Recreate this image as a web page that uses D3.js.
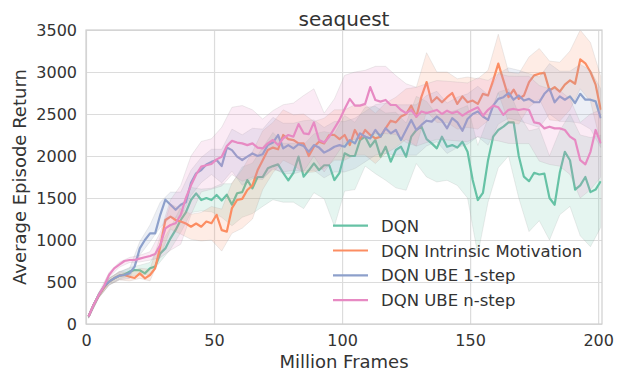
<!DOCTYPE html>
<html><head><meta charset="utf-8">
<script src="https://cdn.jsdelivr.net/npm/d3@7"></script>
<style>body{margin:0;background:#fff;}svg{display:block;font-family:"DejaVu Sans",sans-serif;}</style>
</head><body><svg id="c" width="618" height="377"></svg>
<script>
const title = "seaquest";
const xLabel = "Million Frames";
const yLabel = "Average Episode Return";
const seriesNames = ["DQN", "DQN Intrinsic Motivation", "DQN UBE 1-step", "DQN UBE n-step"];
const xTicks = [0, 50, 100, 150, 200];
const yTicks = [0, 500, 1000, 1500, 2000, 2500, 3000, 3500];
// line samples at x = 1, 3, 5, ..., 201
const dqn = [90,230,345,444,504,544,575,590,623,643,
 640,603,663,683,841,900,1020,1120,1238,1330,
 1476,1556,1476,1500,1476,1536,1470,1540,1420,1556,
 1570,1714,1615,1750,1750,1853,1880,1900,1800,1710,
 1800,1992,1754,1830,1913,1833,1890,1890,1714,1800,
 2032,2000,2000,2190,2230,2111,2190,1992,2111,1932,
 2071,2111,1992,2230,2310,2349,2200,2150,2091,2230,
 2111,2130,2100,2170,2050,1714,1476,1560,1950,2230,
 2310,2349,2400,2400,2000,1754,1700,1800,1780,1790,
 1500,1420,1800,2050,1950,1600,1650,1750,1570,1600,
 1700];
const dqnIM = [90,230,340,430,504,544,575,583,563,548,
 603,544,583,663,920,1238,1278,1238,1220,1196,
 1158,1196,1158,1220,1200,1300,1118,1100,1380,1476,
 1490,1595,1650,1830,1950,2071,2100,2080,2250,2200,
 2190,2150,2150,2000,2110,2170,2150,2250,2250,2200,
 2250,2130,2310,2200,2310,2250,2210,2230,2330,2420,
 2400,2470,2500,2600,2468,2707,2880,2640,2700,2640,
 2700,2750,2620,2710,2640,2660,2620,2740,2720,2900,
 3100,2900,2700,2790,2680,2720,2880,2960,2980,2990,
 2780,2820,2766,2850,2900,2860,3150,3104,3000,2850,
 2550];
const ube1 = [90,230,345,444,504,544,575,583,603,683,
 900,1000,1079,1079,1300,1480,1420,1360,1420,1450,
 1680,1794,1833,1900,1930,1952,1880,2100,2070,1992,
 1952,1992,2030,2000,2020,2130,2160,2250,2090,2130,
 2090,2140,2120,2050,2130,2100,2040,2071,2110,2130,
 2110,2190,2150,2270,2230,2210,2310,2230,2330,2270,
 2310,2190,2310,2430,2310,2370,2420,2409,2470,2420,
 2330,2450,2400,2300,2440,2500,2530,2470,2430,2600,
 2680,2700,2750,2670,2720,2660,2680,2640,2640,2740,
 2800,2640,2710,2670,2710,2630,2740,2670,2670,2650,
 2450];
const ubeN = [90,230,345,450,583,663,706,750,762,762,
 778,794,810,833,940,1139,1178,1200,1300,1500,
 1650,1780,1873,1890,1905,1960,1992,2120,2180,2160,
 2150,2130,2150,2100,2090,2150,2190,2130,2210,2250,
 2230,2380,2270,2260,2400,2190,2160,2230,2330,2430,
 2560,2680,2600,2600,2620,2820,2667,2647,2667,2607,
 2607,2548,2510,2548,2468,2530,2510,2530,2548,2500,
 2540,2510,2530,2480,2520,2550,2580,2480,2550,2600,
 2580,2490,2550,2560,2548,2560,2548,2400,2389,2329,
 2349,2329,2329,2310,2230,2190,1950,1900,2050,2310,
 2150];
// band half-widths at x = 1, 5, 9, ..., 201
const dqnBand = [20,30,40,40,50,60,70,100,130,150,150,130,140,200,250,300,300,350,400,350,350,380,350,400,550,450,400,350,400,400,450,400,400,450,400,400,450,550,650,500,450,400,500,600,550,500,500,550,600,650,550];
const dqnIMBand = [20,30,40,50,50,60,70,120,150,150,150,170,200,250,300,350,400,350,300,300,300,350,300,300,300,300,300,300,300,300,300,300,350,350,300,300,300,300,300,300,350,300,300,300,300,350,350,350,350,350,400];
const ube1Band = [20,30,40,50,60,80,100,150,150,150,150,150,150,200,250,300,300,300,300,300,300,300,300,300,300,300,300,300,300,300,300,300,300,300,300,300,300,300,300,300,300,300,300,300,300,300,300,300,350,350,350];
const ubeNBand = [20,30,30,30,30,40,50,150,300,350,350,300,300,350,400,450,400,350,350,400,400,450,400,350,350,400,400,400,400,400,350,350,350,350,350,350,350,350,350,350,400,400,400,400,450,450,450,450,450,450,400];
const colors = ["#66c2a5", "#fc8d62", "#8da0cb", "#e78ac3"];

const svg = d3.select("#c");
const L = 86, R = 602, T = 30, B = 324;
const x = d3.scaleLinear().domain([0, 201.5]).range([L, R]);
const y = d3.scaleLinear().domain([0, 3500]).range([B, T]);
const gridC = "#dcdcdc", txtC = "#333";

svg.append("defs").append("clipPath").attr("id", "clip")
  .append("rect").attr("x", L).attr("y", T).attr("width", R - L).attr("height", B - T);

// grid
svg.append("g").attr("transform", `translate(0,${B})`)
  .call(d3.axisBottom(x).tickValues(xTicks).tickSize(-(B - T)).tickFormat(""))
  .call(g => { g.select(".domain").remove(); g.selectAll("line").attr("stroke", gridC).attr("stroke-width", 1.2); });
svg.append("g").attr("transform", `translate(${L},0)`)
  .call(d3.axisLeft(y).tickValues(yTicks).tickSize(-(R - L)).tickFormat(""))
  .call(g => { g.select(".domain").remove(); g.selectAll("line").attr("stroke", gridC).attr("stroke-width", 1.2); });

const all = [dqn, dqnIM, ube1, ubeN];
const bands = [dqnBand, dqnIMBand, ube1Band, ubeNBand];
const plot = svg.append("g").attr("clip-path", "url(#clip)");
all.forEach((s, k) => {
  const pts = s.map((v, i) => ({ x: 1 + 2 * i, v }));
  const bpts = bands[k].map((h, i) => ({ x: 1 + 4 * i, v: s[2 * i], h }));
  const area = d3.area().x(d => x(d.x)).y0(d => y(Math.max(0, d.v - d.h))).y1(d => y(d.v + d.h));
  plot.append("path").datum(bpts).attr("d", area)
    .attr("fill", colors[k]).attr("fill-opacity", 0.17)
    .attr("stroke", "#999").attr("stroke-opacity", 0.3).attr("stroke-width", 0.6);
  plot.append("path").datum(pts)
    .attr("d", d3.line().x(d => x(d.x)).y(d => y(d.v)))
    .attr("fill", "none").attr("stroke", colors[k]).attr("stroke-width", 2.2).attr("stroke-linejoin", "round");
});

// spines
svg.append("rect").attr("x", L).attr("y", T).attr("width", R - L).attr("height", B - T)
  .attr("fill", "none").attr("stroke", "#cfcfcf").attr("stroke-width", 1.2);

// tick labels
svg.append("g").attr("transform", `translate(0,${B})`)
  .call(d3.axisBottom(x).tickValues(xTicks).tickSize(0).tickPadding(0).tickFormat(d3.format("d")))
  .call(g => { g.select(".domain").remove();
    g.selectAll("text").attr("fill", txtC).attr("font-size", 16).attr("font-family", "DejaVu Sans").attr("dy", null).attr("y", 22); });
svg.append("g").attr("transform", `translate(${L},0)`)
  .call(d3.axisLeft(y).tickValues(yTicks).tickSize(0).tickPadding(9).tickFormat(d3.format("d")))
  .call(g => { g.select(".domain").remove();
    g.selectAll("text").attr("fill", txtC).attr("font-size", 16).attr("font-family", "DejaVu Sans"); });

svg.append("text").attr("x", (L + R) / 2).attr("y", 26).attr("text-anchor", "middle")
  .attr("font-size", 20).attr("fill", txtC).text(title);
svg.append("text").attr("x", (L + R) / 2).attr("y", 368).attr("text-anchor", "middle")
  .attr("font-size", 18).attr("fill", txtC).text(xLabel);
svg.append("text").attr("transform", `translate(26,${(T + B) / 2}) rotate(-90)`).attr("text-anchor", "middle")
  .attr("font-size", 18).attr("fill", txtC).text(yLabel);

// legend
const lg = svg.append("g");
seriesNames.forEach((n, i) => {
  const cy = 225.7 + i * 24.8;
  lg.append("line").attr("x1", 333).attr("x2", 368).attr("y1", cy).attr("y2", cy)
    .attr("stroke", colors[i]).attr("stroke-width", 2.2);
  lg.append("text").attr("x", 381).attr("y", cy + 6).attr("font-size", 16.5).attr("fill", txtC).text(n);
});
</script></body></html>
